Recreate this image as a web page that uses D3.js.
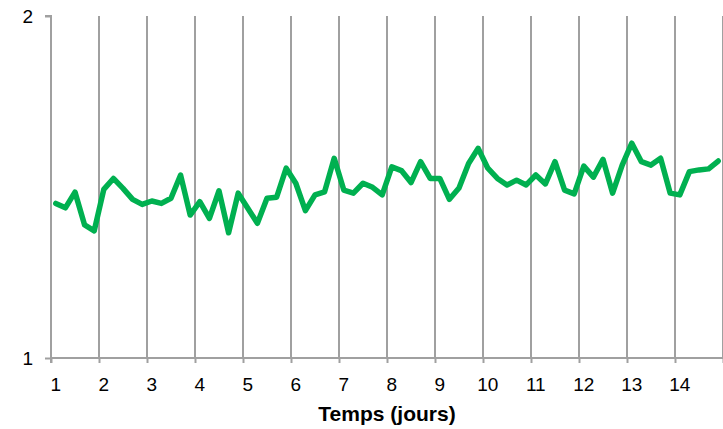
<!DOCTYPE html>
<html>
<head>
<meta charset="utf-8">
<script src="https://cdn.jsdelivr.net/npm/d3@7"></script>
<style>
  html, body { margin: 0; padding: 0; background: #fff; }
  svg { display: block; }
  text { font-family: "Liberation Sans", Arial, sans-serif; fill: #000; }
</style>
</head>
<body>
<svg id="chart" width="723" height="429"></svg>
<script>
// Data: 70 readings, 5 per day over 14 days
const dayLabels = ["1","2","3","4","5","6","7","8","9","10","11","12","13","14"];
const pointsPerDay = 5;
const values = [
  1.452, 1.439, 1.485, 1.389, 1.372, 1.493, 1.525, 1.496, 1.464, 1.449,
  1.459, 1.452, 1.467, 1.535, 1.418, 1.457, 1.408, 1.489, 1.366, 1.482,
  1.438, 1.394, 1.467, 1.470, 1.555, 1.511, 1.431, 1.477, 1.486, 1.584,
  1.491, 1.482, 1.511, 1.499, 1.477, 1.559, 1.548, 1.513, 1.574, 1.525,
  1.525, 1.464, 1.497, 1.569, 1.613, 1.555, 1.525, 1.506, 1.520, 1.506,
  1.535, 1.509, 1.574, 1.491, 1.480, 1.561, 1.529, 1.581, 1.482, 1.564,
  1.628, 1.574, 1.564, 1.584, 1.482, 1.477, 1.545, 1.550, 1.553, 1.576
];
const yTicks = [1, 2];
const xTitle = "Temps (jours)";

const svg = d3.select("#chart");
const mLeft = 51, mRight = 723, mTop = 16, mBottom = 358;

const x = d3.scaleLinear().domain([0, values.length]).range([mLeft, mRight]);
const y = d3.scaleLinear().domain([1, 2]).range([mBottom, mTop]);

const gridColor = "#a0a0a0";

// vertical gridlines at day boundaries
const boundaries = d3.range(pointsPerDay, values.length + 1, pointsPerDay);
svg.append("g").selectAll("line").data(boundaries).join("line")
  .attr("x1", d => x(d)).attr("x2", d => x(d))
  .attr("y1", mTop).attr("y2", mBottom)
  .attr("stroke", gridColor).attr("stroke-width", 2);

// x axis
const xAxis = d3.axisBottom(x)
  .tickValues(d3.range(0, values.length + 1, pointsPerDay))
  .tickSize(5).tickFormat("");
const gx = svg.append("g").attr("transform", `translate(0,${mBottom})`).call(xAxis);
gx.select(".domain").attr("stroke", gridColor).attr("stroke-width", 2).attr("d", `M${mLeft},0H${mRight}`);
gx.selectAll(".tick line").attr("stroke", gridColor).attr("stroke-width", 2);

// x labels at the first reading of each day
svg.append("g").selectAll("text").data(dayLabels).join("text")
  .attr("x", (d, i) => x(i * pointsPerDay + 0.5))
  .attr("y", 391)
  .attr("text-anchor", "middle")
  .attr("font-size", 19)
  .text(d => d);

// y axis
const yAxis = d3.axisLeft(y).tickValues(yTicks).tickSize(6).tickPadding(12).tickFormat(d3.format("d"));
const gy = svg.append("g").attr("transform", `translate(${mLeft},0)`).call(yAxis);
gy.select(".domain").attr("stroke", gridColor).attr("stroke-width", 2).attr("d", `M-6,${mTop}H0V${mBottom + 5}`);
gy.selectAll(".tick line").attr("stroke", gridColor).attr("stroke-width", 2);
gy.selectAll(".tick text").attr("font-size", 19).attr("font-family", "Liberation Sans, Arial, sans-serif").attr("fill", "#000");

// x title
svg.append("text")
  .attr("x", (mLeft + mRight) / 2).attr("y", 421)
  .attr("text-anchor", "middle")
  .attr("font-size", 21).attr("font-weight", "bold")
  .text(xTitle);

// line
const line = d3.line().x((d, i) => x(i + 0.5)).y(d => y(d));
svg.append("path").datum(values)
  .attr("fill", "none").attr("stroke", "#00B050")
  .attr("stroke-width", 5.5).attr("stroke-linejoin", "round").attr("stroke-linecap", "round")
  .attr("d", line);
</script>
</body>
</html>
